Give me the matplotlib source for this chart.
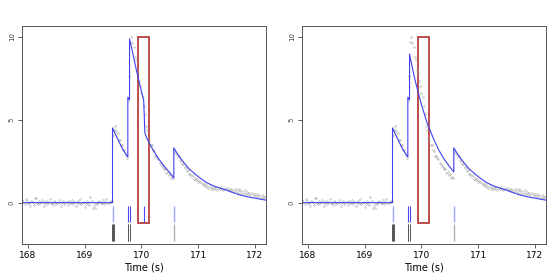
import numpy as np
import matplotlib
matplotlib.use("Agg")
import matplotlib.pyplot as plt
from matplotlib.patches import Rectangle

# ---- observed fluorescence (gray dots), sampled every 0.02 s from 167.90 ----
dot_start = 167.90
dot_step = 0.02
dots_baseline = [0.15, 0.05, -0.1, 0.2, 0.1, -0.05, 0.0, -0.2, 0.1, 0.05,
                 -0.15, 0.25, 0.3, 0.0, -0.1, 0.1, -0.05, 0.15, 0.05, -0.2,
                 0.0, 0.1, -0.1, 0.05, 0.2, -0.05, 0.0, -0.15, 0.1, 0.05,
                 -0.1, 0.0, 0.15, -0.05, -0.2, 0.05, 0.1, -0.1, 0.0, 0.05,
                 -0.15, 0.1, 0.0, -0.05, 0.15, -0.1, 0.05, -0.2, 0.0, 0.1,
                 -0.05, 0.2, -0.1, 0.0, 0.05, -0.25, -0.1, 0.1, 0.0, -0.15,
                 0.35, 0.1, -0.3, -0.15, -0.35, 0.0, -0.1, 0.05, 0.1, -0.05,
                 0.0, 0.15, -0.1, 0.05, 0.2, 0.0, -0.05, 0.1, 0.05, 0.1]
dots_burst = [4.1, 4.4, 4.6, 4.3, 4.2, 3.8, 3.75, 3.5, 3.45, 3.2, 3.15, 2.85, 2.7,
              6.2, 7.6, 9.7, 10.0, 9.6, 9.35, 8.8, 8.6, 8.0, 7.8, 7.3, 7.05,
              6.6, 6.35, 5.85, 5.35, 4.6, 4.35, 3.9, 3.8, 3.5, 3.45, 3.15, 3.1,
              2.8, 2.8, 2.7, 2.6, 2.4, 2.35, 2.2, 2.15, 2.0, 2.0, 1.8,
              1.85, 1.65, 1.7, 1.5, 1.55, 1.5]
dots_tail = [3.1, 3.0, 2.95, 2.75, 2.8, 2.55, 2.5, 2.35, 2.3, 2.15, 2.1, 1.9,
             1.95, 1.75, 1.75, 1.6, 1.65, 1.45, 1.5, 1.35, 1.4, 1.25,
             1.3, 1.25, 1.2, 1.05, 1.15, 1.0, 1.05, 0.95, 0.9, 1.0, 0.85,
             0.95, 0.8, 0.9, 0.8, 0.95, 0.75, 0.9, 0.8, 0.95, 0.85, 0.75, 0.9, 0.8,
             0.9, 0.75, 0.85, 0.7, 0.85, 0.75, 0.65, 0.8, 0.7, 0.6, 0.8, 0.65,
             0.75, 0.55, 0.7, 0.6, 0.75, 0.55, 0.65, 0.5, 0.6, 0.45, 0.6, 0.5,
             0.4, 0.55, 0.45, 0.35, 0.5, 0.4, 0.3, 0.45, 0.35, 0.3, 0.4]
dot_values = dots_baseline + dots_burst + dots_tail
dot_times = dot_start + dot_step * np.arange(len(dot_values))

# ---- fitted calcium curves (blue) ----
fit1_t = [167.89, 169.49, 169.49, 169.55, 169.60, 169.65, 169.70, 169.76, 169.76,
          169.79, 169.79, 169.85, 169.90, 169.95, 170.00, 170.04, 170.06, 170.10,
          170.15, 170.20, 170.30, 170.40, 170.50, 170.57, 170.57, 170.65, 170.75,
          170.85, 171.00, 171.15, 171.30, 171.50, 171.70, 171.90, 172.00, 172.19]
fit1_v = [0.0, 0.0, 4.5, 4.05, 3.7, 3.35, 3.05, 2.75, 6.35,
          6.2, 9.85, 8.95, 8.15, 7.4, 6.7, 6.15, 4.2, 3.85,
          3.5, 3.2, 2.65, 2.2, 1.8, 1.5, 3.3, 2.85, 2.4,
          2.0, 1.57, 1.2, 0.97, 0.75, 0.5, 0.33, 0.27, 0.15]
fit2_t = [167.89, 169.49, 169.49, 169.55, 169.60, 169.65, 169.70, 169.76, 169.76,
          169.79, 169.79, 169.85, 169.90, 169.95, 170.00, 170.10, 170.20, 170.30,
          170.40, 170.50, 170.57, 170.57, 170.65, 170.75, 170.85, 171.00, 171.15,
          171.30, 171.50, 171.70, 171.90, 172.00, 172.19]
fit2_v = [0.0, 0.0, 4.5, 4.05, 3.7, 3.35, 3.05, 2.75, 6.35,
          6.2, 8.95, 7.95, 7.2, 6.55, 5.9, 4.8, 3.95, 3.2,
          2.62, 2.15, 1.85, 3.3, 2.85, 2.4, 2.0, 1.57, 1.2,
          0.97, 0.75, 0.5, 0.33, 0.27, 0.15]

# ---- spike estimates ----
spikes1_light = [169.49, 170.57]
spikes1_dark = [169.76, 169.79, 170.04]
spikes2_light = [169.49, 170.57]
spikes2_dark = [169.76, 169.79]
true_spikes_dark = [169.48, 169.49, 169.50, 169.51, 169.755, 169.765, 169.79]
true_spikes_light = [170.57]

# highlighted window
win_t0, win_t1 = 169.94, 170.14
win_y0, win_y1 = -1.25, 10.0

xticks = [168, 169, 170, 171, 172]
yticks = [0, 5, 10]

fig = plt.figure(figsize=(5.6, 2.8), dpi=100)
panels = [(0.0388, fit1_t, fit1_v, spikes1_light, spikes1_dark),
          (0.5388, fit2_t, fit2_v, spikes2_light, spikes2_dark)]

for left, ft, fv, sl, sd in panels:
    ax = fig.add_axes([left, 0.1286, 0.4357, 0.7786])
    ax.plot(dot_times, dot_values, linestyle='none', marker='o', markersize=1.1,
            mfc='none', mec='#9a9a9a', mew=0.35)
    ax.plot(ft, fv, color='#4040f0', lw=0.8)
    ax.vlines(sl, -1.15, -0.2, color='#a0a0ff', lw=1.0)
    ax.vlines(sd, -1.15, -0.2, color='#4848ee', lw=0.8)
    ax.vlines(true_spikes_dark, -2.3, -1.3, color='#555555', lw=0.7)
    ax.vlines(true_spikes_light, -2.3, -1.3, color='#b0b0b0', lw=1.0)
    ax.add_patch(Rectangle((win_t0, win_y0), win_t1 - win_t0, win_y1 - win_y0,
                           fill=False, edgecolor='#b03030', lw=1.2))
    ax.set_xlim(167.89, 172.19)
    ax.set_ylim(-2.49, 10.64)
    ax.set_xticks(xticks)
    ax.set_xticklabels([str(v) for v in xticks], fontsize=6.5)
    ax.set_yticks(yticks)
    ax.set_yticklabels([str(v) for v in yticks], fontsize=5, rotation=90,
                       va='center', color='#444444')
    ax.tick_params(length=3, width=0.6, color='#444444', pad=2)
    for s in ax.spines.values():
        s.set_color('#555555')
        s.set_linewidth(0.7)
    ax.set_xlabel('Time (s)', fontsize=7, labelpad=2)

fig.savefig('out.png', dpi=100)
